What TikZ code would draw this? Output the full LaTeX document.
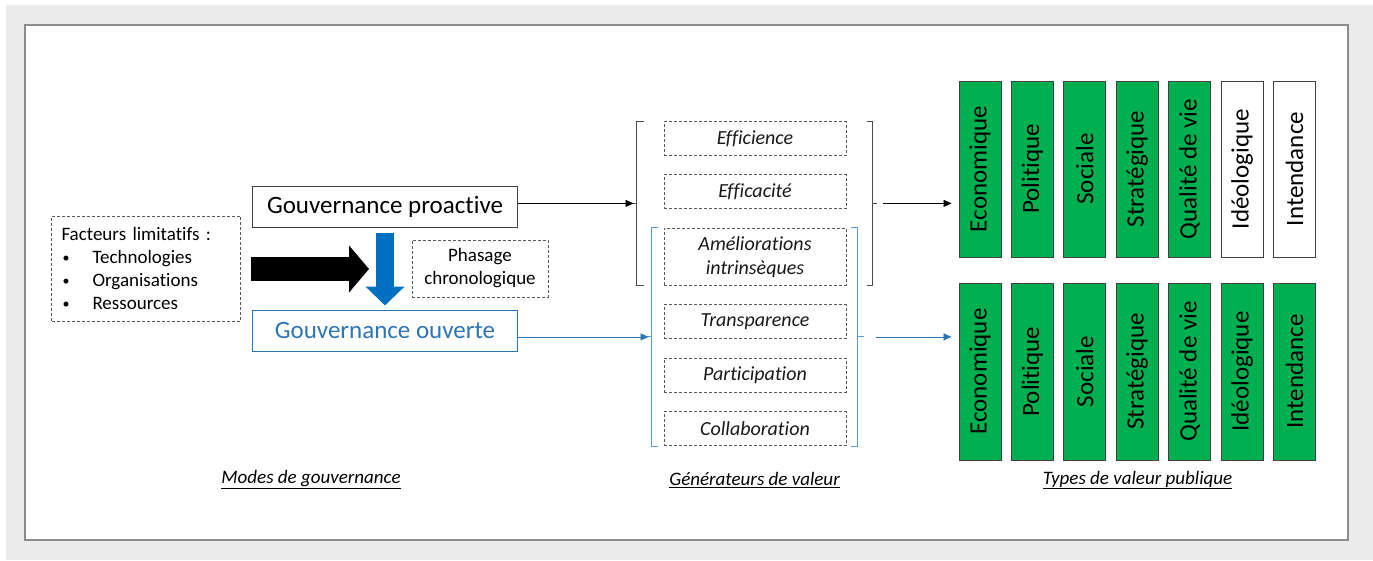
\documentclass[tikz,border=0pt]{standalone}
\usepackage{fontspec}
\setmainfont{Carlito}[Ligatures=NoCommon]
\usetikzlibrary{positioning, calc, arrows.meta}
\definecolor{bggrey}{HTML}{EBEBEB}
\definecolor{framegrey}{HTML}{8C8C8C}
\definecolor{valgreen}{HTML}{00B050}
\definecolor{arrowblue}{HTML}{0070C0}
\definecolor{openblue}{HTML}{2E75B6}
\definecolor{brackblue}{HTML}{5B9BD5}
\definecolor{dashgrey}{HTML}{595959}
\newcommand{\smallbullet}{\makebox[31pt][l]{\hspace{1pt}\raisebox{1pt}{\fontsize{14}{14}\selectfont\textbullet}}}
\tikzset{
bigfont/.style={font=\fontsize{25}{30}\selectfont}, % font of the two governance modes
mode/.style={draw=black!75, line width=1pt, minimum width=265, minimum height=41, inner sep=0pt, bigfont}, % governance mode boxes
dashbox/.style={draw=dashgrey, line width=0.9pt, dash pattern=on 3pt off 2pt}, % dashed boxes
gen/.style={dashbox, minimum width=182, minimum height=34, inner sep=0pt, align=center, text=black!90, font=\fontsize{20}{24}\selectfont\itshape}, % value generators
valbox/.style={draw=black!75, line width=0.9pt, rotate=90, minimum width=176, minimum height=42, inner sep=0pt, bigfont}, % value types
link/.style={-{Triangle[length=8pt,width=7pt]}, line width=0.8pt}, % thin arrows
gbrack/.style={draw=black!70, line width=0.9pt}, % grey brackets
bbrack/.style={draw=brackblue, line width=0.9pt}, % blue brackets
caption/.style={font=\fontsize{19}{23}\selectfont\itshape}, % column captions
}

\begin{document}
\begin{tikzpicture}[x=1pt, y=-1pt, node distance=18.5pt]
    \useasboundingbox (0,0) rectangle (1373,560);
    \fill[bggrey] (6,5) rectangle (1373,560);
    \draw[framegrey, line width=2pt, fill=white] (25,25) rectangle (1348,540);

    % Governance modes
    \node[dashbox, minimum width=189, minimum height=105, text width=169, inner xsep=10pt, align=left,
          font=\fontsize{19}{23.3}\selectfont] (fl) at (146,268.5)
        {Facteurs limitatifs :\\
         \smallbullet Technologies\\
         \smallbullet Organisations\\
         \smallbullet Ressources};
    \node[mode] (gp) at (385,206.5) {Gouvernance proactive};
    \node[mode, draw=openblue, text=openblue] (go) at (385,330.5) {Gouvernance ouverte};
    \node[dashbox, minimum width=136, minimum height=57, inner sep=0pt, align=center,
          font=\fontsize{19}{23}\selectfont] (ph) at (480,268.5) {Phasage\\chronologique};
    \coordinate (merge) at (369,269);
    \draw[line width=24pt, -{Triangle[length=20pt,width=46pt]}, shorten <=10pt] (fl.east |- merge) -- (merge);
    \draw[arrowblue, line width=18pt, -{Triangle[length=19pt,width=38pt]}, shorten <=5pt, shorten >=4pt] (gp.south) -- (go.north);

    % Value generators
    \node[gen] (eff) at (755,138.5) {Efficience};
    \node[gen, below=of eff] (efc) {Efficacité};
    \node[gen, below=of efc, minimum height=57] (amel) {Améliorations\\intrinsèques};
    \node[gen, below=of amel] (trans) {Transparence};
    \node[gen, below=of trans] (part) {Participation};
    \node[gen, below=of part] (coll) {Collaboration};

    \draw[gbrack] ($(eff.north west)+(-20,0)$) -- ++(-7,0) |- ($(amel.south west)+(-20,0)$);
    \draw[gbrack] ($(eff.north east)+(21,0)$) -- ++(5,0) |- ($(amel.south east)+(21,0)$);
    \coordinate (pin) at ($(eff.north west)!0.5!(amel.south west)+(-27,0)$);
    \coordinate (pout) at ($(eff.north east)!0.5!(amel.south east)+(26,0)$);
    \draw[gbrack] (pin) -- ++(-7,0);
    \draw[gbrack] (pout) -- ++(5,0);

    \draw[bbrack] ($(amel.north west)+(-6,0)$) -- ++(-6,0) |- ($(coll.south west)+(-6,0)$);
    \draw[bbrack] ($(amel.north east)+(5,0)$) -- ++(6,0) |- ($(coll.south east)+(5,0)$);
    \coordinate (qin) at ($(amel.north west)!0.5!(coll.south west)+(-12,0)$);
    \coordinate (qout) at ($(amel.north east)!0.5!(coll.south east)+(11,0)$);
    \draw[bbrack] (qin) -- ++(-7,0);
    \draw[bbrack] (qout) -- ++(7,0);

    % Public value types
    \foreach \lbl/\col [count=\i] in {Economique/valgreen, Politique/valgreen, Sociale/valgreen,
        Stratégique/valgreen, Qualité de vie/valgreen, Idéologique/white, Intendance/white}
        \node[valbox, fill=\col] (v\i) at ({927.6+52.4*\i},169) {\lbl};
    \foreach \lbl [count=\i] in {Economique, Politique, Sociale, Stratégique, Qualité de vie, Idéologique, Intendance}
        \node[valbox, fill=valgreen, minimum width=177] (w\i) at ({927.6+52.4*\i},371.5) {\lbl};

    % Links
    \draw[link] (gp.east |- pin) -- ([xshift=-3pt]pin);
    \draw[link, shorten >=7pt] ([xshift=11pt]pout) -- (v1.north |- pout);
    \draw[link, openblue] (go.east |- qin) -- ([xshift=-3pt]qin);
    \draw[link, openblue, shorten >=7pt] ([xshift=19pt]qout) -- (w1.north |- qout);

    % Captions
    \node[caption] (c1) at (311,480) {\underline{Modes de gouvernance}};
    \node[caption] (c2) at (754.5,480) {\underline{Générateurs de valeur}};
    \node[caption] (c3) at (1137.5,480) {\underline{Types de valeur publique}};
  \end{tikzpicture}
\end{document}
